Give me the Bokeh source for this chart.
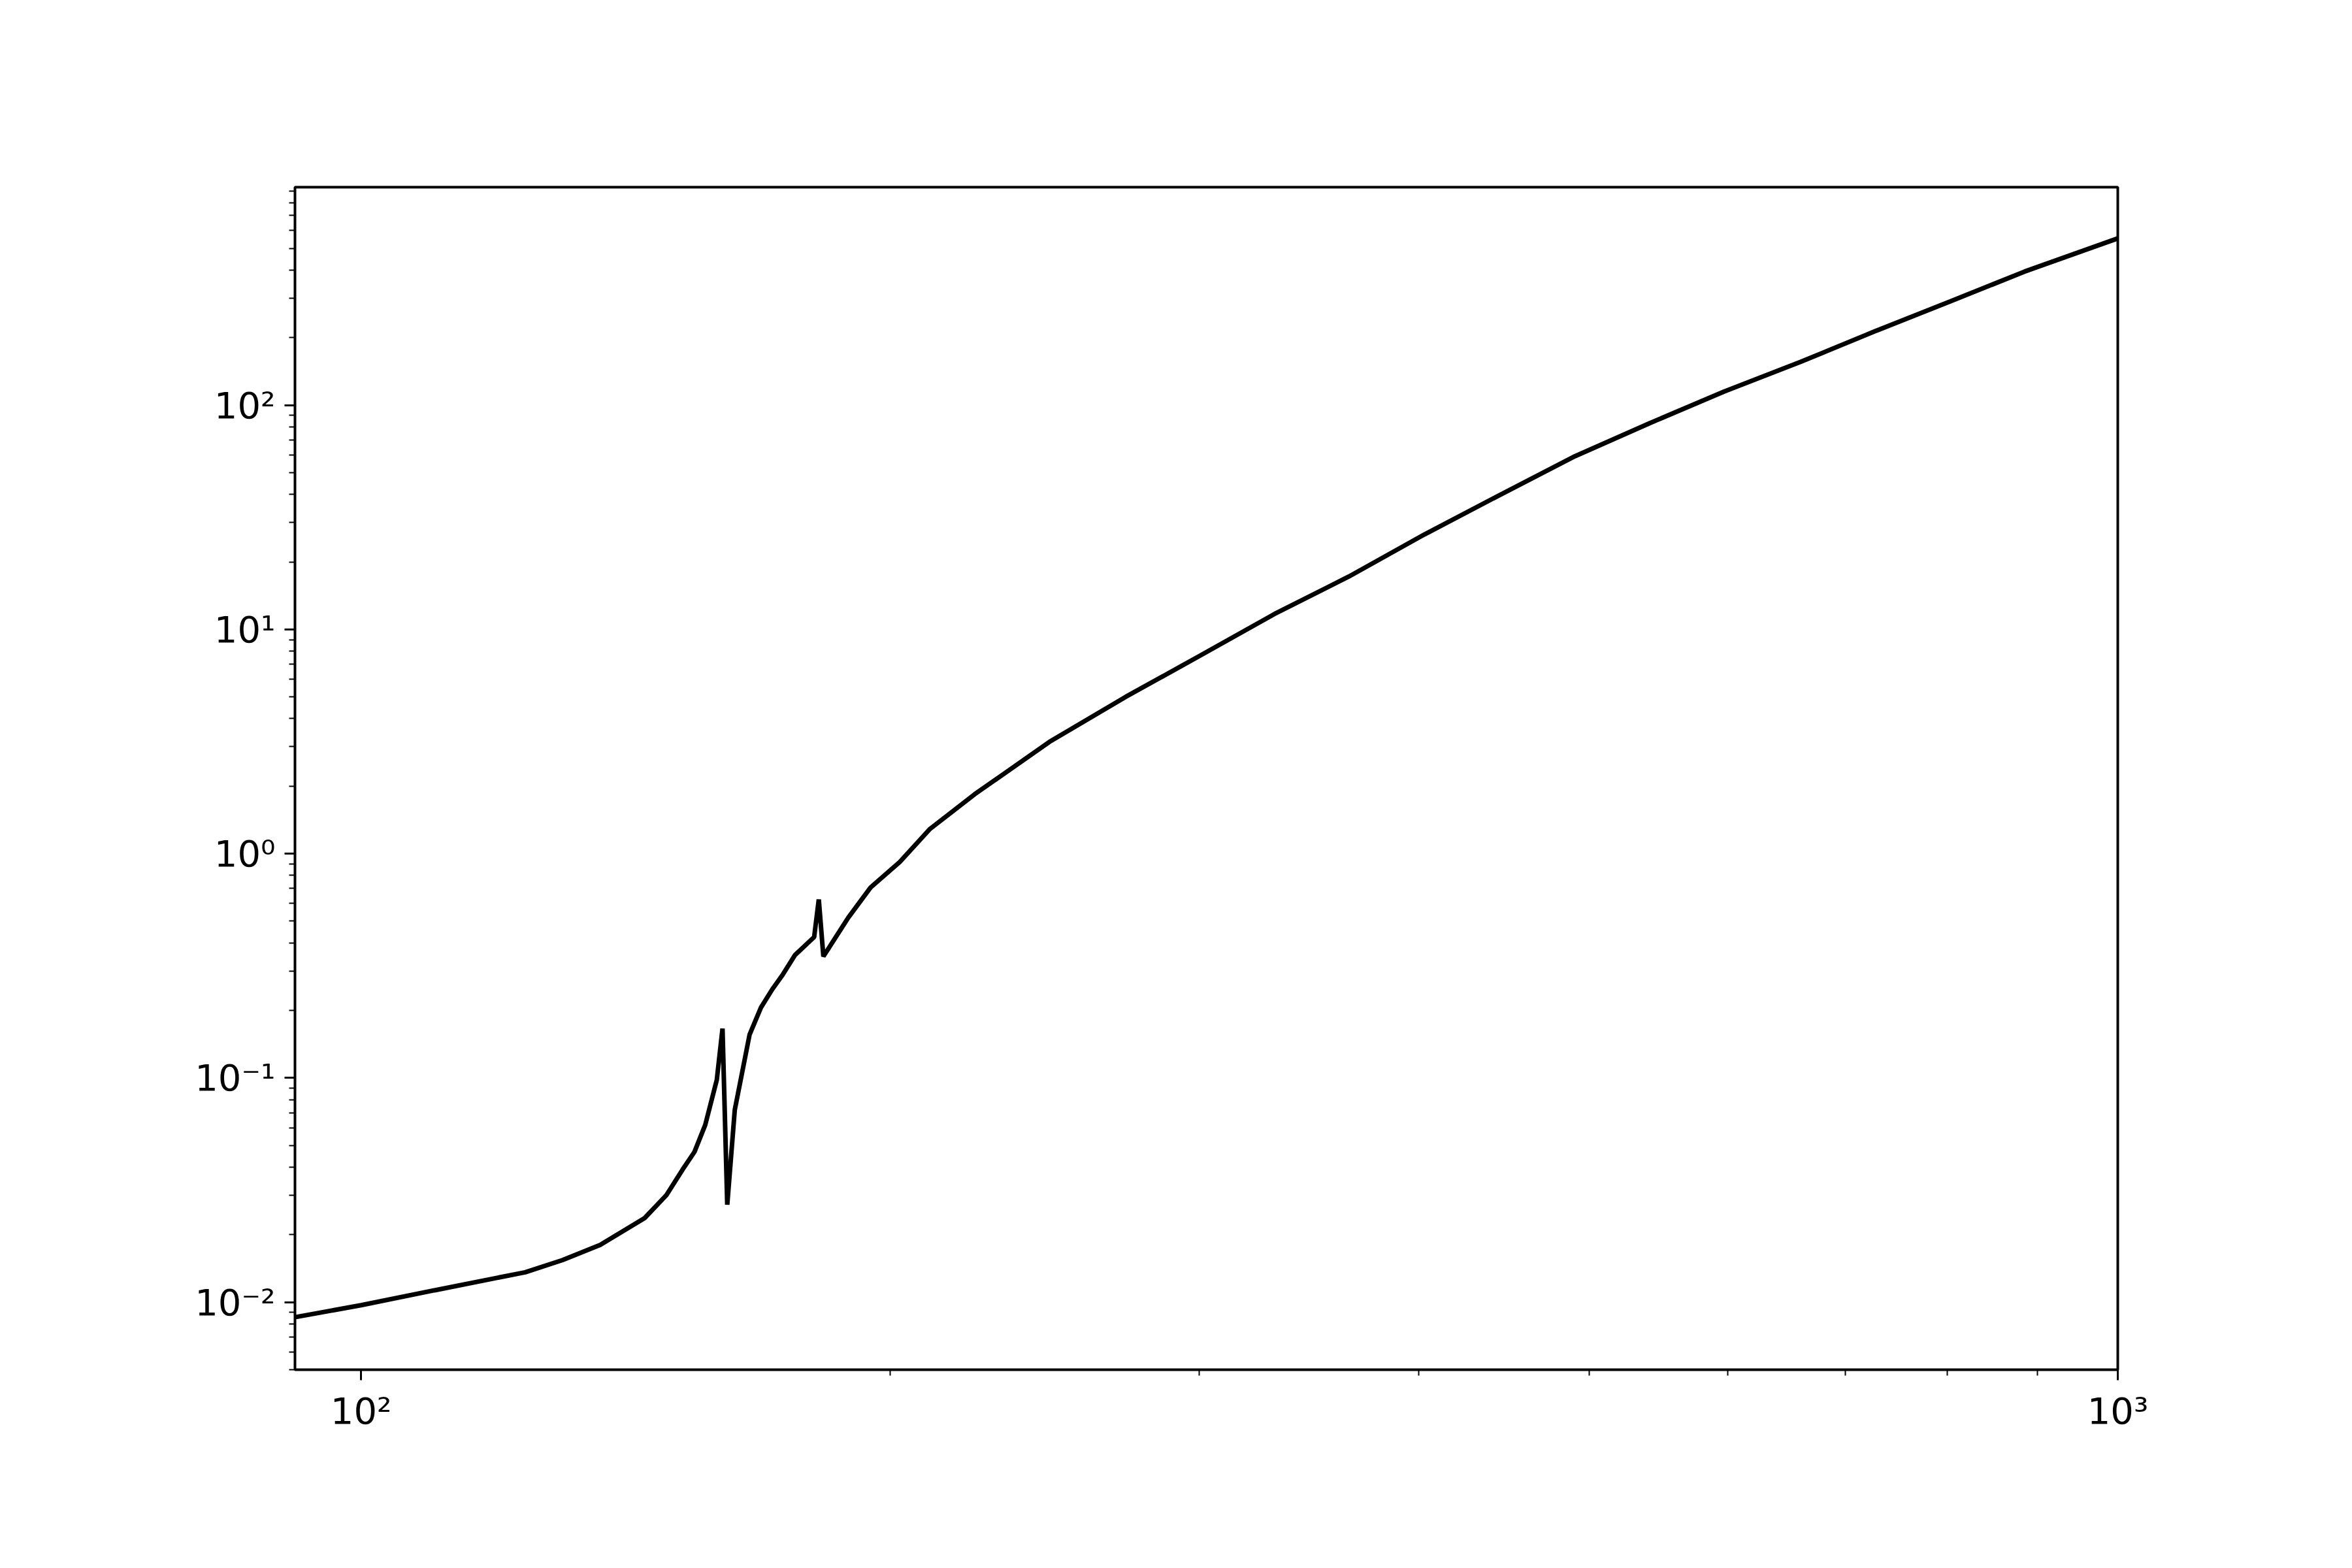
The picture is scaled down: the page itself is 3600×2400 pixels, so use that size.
import numpy as np
from bokeh.plotting import figure
from bokeh.models import FixedTicker, Label, Range1d
from bokeh.embed import file_html
from bokeh.resources import INLINE

# Higgs mass [GeV] and total width [GeV]
m_h = [91.7, 100, 110.1, 124, 130.2, 136.8, 145, 149.2, 152.4, 154.8, 157.0, 159.4,
       160.6, 161.6, 163.2, 166.4, 168.9, 171.4, 173.8, 176.6, 181.1, 182.2, 183.3,
       189.4, 195, 202.6, 210.8, 223.5, 246.5, 272.4, 300, 331, 365, 403, 446.4, 491,
       541.7, 597, 660, 727, 803, 885, 1000]
gamma = [0.00857, 0.0097, 0.0113, 0.0136, 0.0154, 0.018, 0.0237, 0.030, 0.039, 0.0468,
         0.0617, 0.098, 0.166, 0.0272, 0.072, 0.156, 0.206, 0.248, 0.289, 0.353, 0.425,
         0.625, 0.348, 0.519, 0.707, 0.918, 1.29, 1.84, 3.15, 5.0, 7.6, 11.7, 17.2, 26.5,
         40.3, 59.2, 83.2, 115, 156, 213, 290, 394, 554]

x_major = [100, 1000]
x_labels = {100: "10²", 1000: "10³"}
y_major = [0.01, 0.1, 1, 10, 100]
y_labels = {0.01: "10⁻²", 0.1: "10⁻¹", 1: "10⁰", 10: "10¹", 100: "10²"}

W, H = 3580, 2380
p = figure(width=W, height=H, x_axis_type="log", y_axis_type="log",
           x_range=Range1d(91.7, 1000), y_range=Range1d(0.005, 937),
           output_backend="svg", toolbar_location=None,
           min_border_left=451, min_border_right=339, min_border_top=286, min_border_bottom=284)
p.line(m_h, gamma, line_color="black", line_width=7)

p.grid.visible = False
p.outline_line_color = "black"
p.outline_line_width = 4

xminor = [90] + list(range(200, 1000, 100))
yminor = []
for d in [0.001, 0.01, 0.1, 1, 10, 100]:
    yminor += [d * k for k in range(2, 10)]
p.xaxis.ticker = FixedTicker(ticks=x_major, minor_ticks=xminor)
p.yaxis.ticker = FixedTicker(ticks=y_major, minor_ticks=yminor)
p.xaxis.major_label_overrides = x_labels
p.yaxis.major_label_overrides = y_labels
for ax in [p.xaxis, p.yaxis]:
    ax.axis_line_color = None
    ax.major_tick_line_width = 3
    ax.minor_tick_line_width = 2
    ax.major_tick_out = 16
    ax.major_tick_in = 0
    ax.minor_tick_out = 9
    ax.minor_tick_in = 0
    ax.major_label_text_font = "DejaVu Sans"
    ax.major_label_text_font_size = "56px"
    ax.major_label_text_color = "black"
    ax.major_label_standoff = 14
p.yaxis.major_label_orientation = "horizontal"

f = "DejaVu Sans"
# axis labels, screen units relative to the plot frame
p.add_layout(Label(x=-301, y=725, x_units="screen", y_units="screen", text="Γ", angle=np.pi / 2,
                   text_font=f, text_font_size="60px", text_baseline="alphabetic"))
p.add_layout(Label(x=-287, y=759, x_units="screen", y_units="screen", text="T", angle=np.pi / 2,
                   text_font=f, text_font_size="42px", text_font_style="italic",
                   text_baseline="alphabetic"))
p.add_layout(Label(x=-301, y=785, x_units="screen", y_units="screen", text=" [GeV]", angle=np.pi / 2,
                   text_font=f, text_font_size="60px", text_baseline="alphabetic"))
p.add_layout(Label(x=1235, y=-261, x_units="screen", y_units="screen", text="m",
                   text_font=f, text_font_size="60px", text_font_style="italic",
                   text_baseline="alphabetic"))
p.add_layout(Label(x=1293, y=-275, x_units="screen", y_units="screen", text="H",
                   text_font=f, text_font_size="42px", text_font_style="italic",
                   text_baseline="alphabetic"))
p.add_layout(Label(x=1325, y=-261, x_units="screen", y_units="screen", text="[GeV]",
                   text_font=f, text_font_size="60px", text_baseline="alphabetic"))

open("out.html", "w").write(file_html(p, INLINE))
